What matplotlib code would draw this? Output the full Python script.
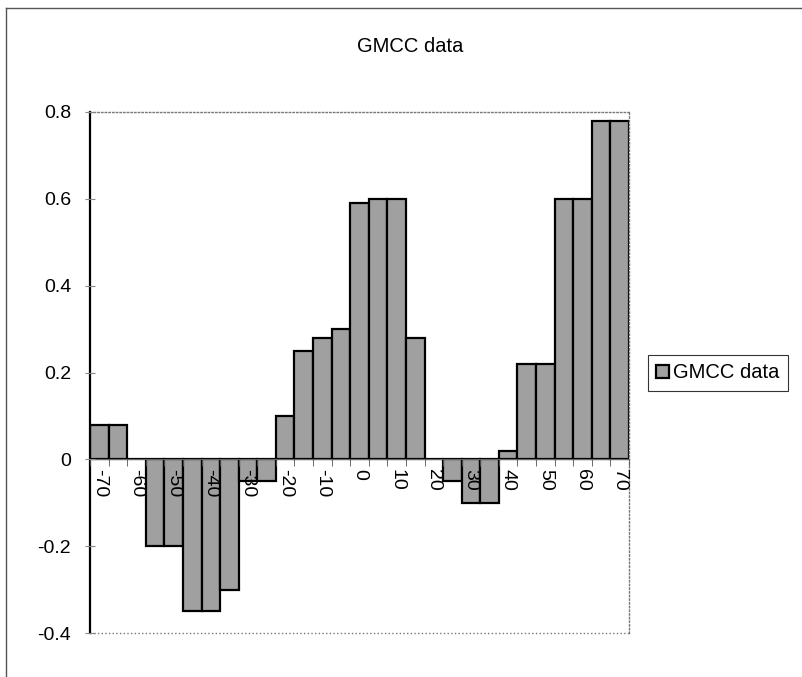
import numpy as np
import matplotlib
matplotlib.use("Agg")
import matplotlib.pyplot as plt
from matplotlib.lines import Line2D

plt.rcParams['font.family'] = ['Liberation Sans', 'DejaVu Sans']

# categories (-70 .. 70 step 5) and values
angles = [-70, -65, -60, -55, -50, -45, -40, -35, -30, -25, -20, -15, -10, -5, 0,
          5, 10, 15, 20, 25, 30, 35, 40, 45, 50, 55, 60, 65, 70]
gmcc = [0.08, 0.08, 0.0, -0.20, -0.20, -0.35, -0.35, -0.30, -0.05, -0.05, 0.10, 0.25,
        0.28, 0.30, 0.59, 0.60, 0.60, 0.28, 0.0, -0.05, -0.10, -0.10, 0.02, 0.22,
        0.22, 0.60, 0.60, 0.78, 0.78]
tick_labels = [str(a) for a in angles[::2]]

fig = plt.figure(figsize=(8.03, 6.77), dpi=100)
ax = fig.add_axes([90/803, 1-633/677, (629-90)/803, (633-112)/677])

x = np.arange(len(angles))
bars = ax.bar(x, gmcc, width=1.0, color='#a0a0a0', edgecolor='black', linewidth=1.6,
              label='GMCC data', zorder=1)
ax.set_axisbelow(False)  # tick labels drawn over the bars

# spine position first (it resets the ticks)
ax.spines['bottom'].set_position(('data', 0))
ax.spines['bottom'].set_color('#666666')
ax.spines['bottom'].set_linewidth(0.8)
ax.spines['left'].set_linewidth(1.6)
for s in ['top', 'right']:
    ax.spines[s].set_linestyle(':')
    ax.spines[s].set_color('#777777')
    ax.spines[s].set_linewidth(1.0)

ax.set_xlim(-0.5, len(angles)-0.5)
ax.set_ylim(-0.4, 0.8)
ax.set_yticks([-0.4, -0.2, 0, 0.2, 0.4, 0.6, 0.8])
ax.set_yticklabels(['-0.4', '-0.2', '0', '0.2', '0.4', '0.6', '0.8'])

# category labels every other bar, ticks at bar boundaries
ax.set_xticks(x[::2])
ax.set_xticklabels(tick_labels)
ax.set_xticks(np.arange(-0.5, len(angles), 1.0), minor=True)
ax.tick_params(axis='x', which='major', length=0, pad=7, labelsize=14,
               labelrotation=270)
for lab in ax.get_xticklabels():
    lab.set_va('top')
    lab.set_ha('center')
ax.tick_params(axis='x', which='minor', length=5, direction='out', color='#555555')
ax.tick_params(axis='y', which='major', length=7, direction='inout', color='#888888',
               labelsize=14, pad=10)

ax.plot([0, 1], [0, 0], transform=ax.transAxes, ls=':', color='#777777', lw=1.0,
        clip_on=False)

fig.text(410/803, 1-47/677, 'GMCC data', ha='center', va='center', fontsize=14.5)

leg = fig.legend(handles=[bars], labels=['GMCC data'], loc='center left',
                 bbox_to_anchor=(648/803, 1-373/677), fontsize=14.5, frameon=True,
                 fancybox=False, handlelength=0.65, handleheight=0.65,
                 handletextpad=0.2, borderpad=0.4, borderaxespad=0)
leg.get_frame().set_edgecolor('black')
leg.get_frame().set_linewidth(0.8)

# outer chart border (top and left visible)
fig.add_artist(Line2D([6/803, 6/803], [0, 1-8/677], color='#555555', lw=1.0))
fig.add_artist(Line2D([6/803, 1], [1-8/677, 1-8/677], color='#555555', lw=1.0))

fig.savefig('out.png', dpi=100)
